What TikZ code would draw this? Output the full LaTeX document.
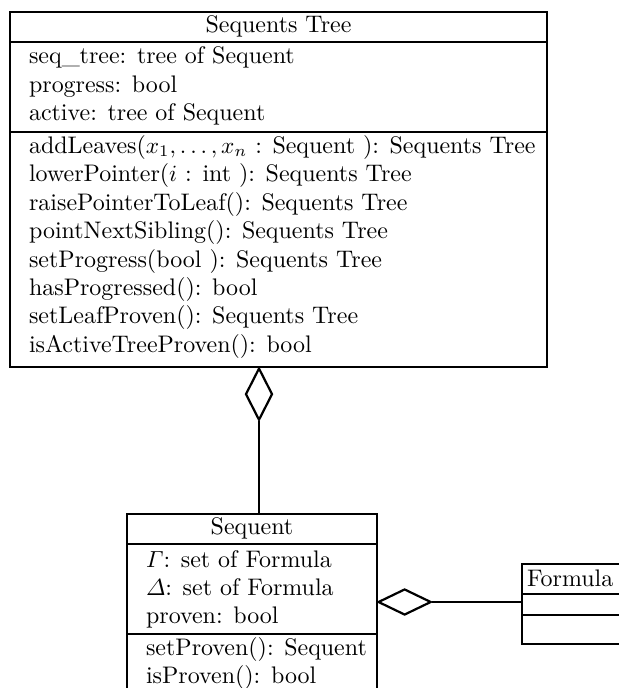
\documentclass[tikz,border=0pt]{standalone}
\usepackage{amsmath}
\usetikzlibrary{fit,shapes.geometric}
\begin{document}
\begin{tikzpicture}[x=0.43pt,y=-0.43pt,line width=0.9pt,
  box/.style={draw,inner sep=0pt,line width=0.95pt},
  txt/.style={anchor=base west,inner sep=0pt,font=\fontsize{10.3}{12.4}\selectfont},
  ttl/.style={anchor=base,inner sep=0pt,font=\fontsize{10.3}{12.4}\selectfont},
  agg/.style={draw,diamond,inner sep=0pt,line width=0.95pt}]
\clip (0,0) rectangle (619,688);
% Sequents Tree class
\coordinate (t1) at (10,12); \coordinate (t2) at (547,367);
\node[box,fit=(t1)(t2)] (tree) {};
\coordinate (ts1) at (10,42); \coordinate (ts2) at (10,132);
\draw (ts1) -- (ts1 -| tree.east);
\draw (ts2) -- (ts2 -| tree.east);
\node[ttl] (ttitle) at (278.5,32) {Sequents Tree};
\node[txt] (ta1) at (28,63) {seq\_tree: tree of Sequent};
\node[txt] (ta2) at (28,92) {progress: bool};
\node[txt] (ta3) at (28,120) {active: tree of Sequent};
\node[txt] (tm1) at (28,153) {addLeaves($x_1,\ldots,x_n$ : Sequent ): Sequents Tree};
\node[txt] (tm2) at (28,181) {lowerPointer($i$ : int ): Sequents Tree};
\node[txt] (tm3) at (28,210) {raisePointerToLeaf(): Sequents Tree};
\node[txt] (tm4) at (28,238) {pointNextSibling(): Sequents Tree};
\node[txt] (tm5) at (28,267) {setProgress(bool ): Sequents Tree};
\node[txt] (tm6) at (28,295) {hasProgressed(): bool};
\node[txt] (tm7) at (28,323) {setLeafProven(): Sequents Tree};
\node[txt] (tm8) at (28,352) {isActiveTreeProven(): bool};
% Sequent class
\coordinate (s1) at (127,514); \coordinate (s2) at (377,720);
\node[box,fit=(s1)(s2)] (seq) {};
\coordinate (ss1) at (127,544); \coordinate (ss2) at (127,634);
\draw (ss1) -- (ss1 -| seq.east);
\draw (ss2) -- (ss2 -| seq.east);
\node[ttl] (stitle) at (252,534) {Sequent};
\node[txt] (sa1) at (145,567) {$\varGamma$: set of Formula};
\node[txt] (sa2) at (145,595) {$\varDelta$: set of Formula};
\node[txt] (sa3) at (145,623) {proven: bool};
\node[txt] (sm1) at (145,655) {setProven(): Sequent};
\node[txt] (sm2) at (145,683) {isProven(): bool};
% Formula class
\coordinate (f1) at (522,564); \coordinate (f2) at (660,644);
\node[box,fit=(f1)(f2)] (form) {};
\coordinate (fs1) at (522,594); \coordinate (fs2) at (522,615);
\draw (fs1) -- (fs1 -| form.east);
\draw (fs2) -- (fs2 -| form.east);
\node[txt] (ftitle) at (526,586) {Formula};
% aggregations
\node[agg,minimum width=11.6pt,minimum height=22.4pt,anchor=north] (d1) at (259,367) {};
\draw (d1.south) -- (d1.south |- seq.north);
\node[agg,minimum width=22.8pt,minimum height=11.2pt,anchor=west] (d2) at (377,602) {};
\draw (d2.east) -- (d2.east -| form.west);
\end{tikzpicture}
\end{document}
